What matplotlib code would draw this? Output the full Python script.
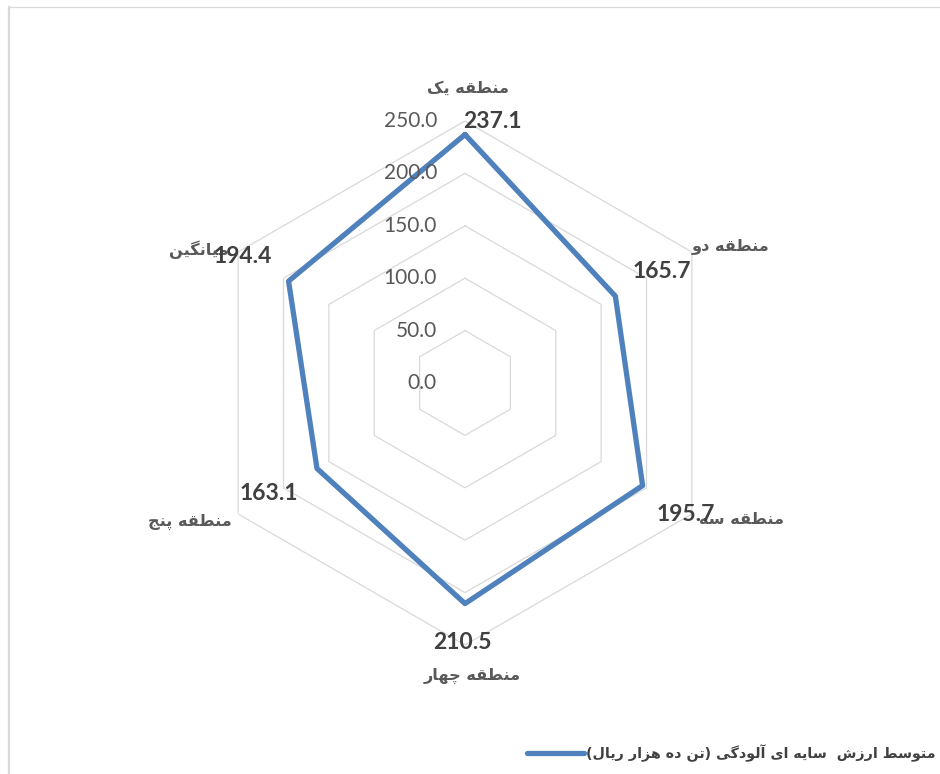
import numpy as np
import matplotlib
matplotlib.use("Agg")
import matplotlib.pyplot as plt
from matplotlib.lines import Line2D

# ---------------- data ----------------
categories = ["منطقه یک", "منطقه دو", "منطقه سه", "منطقه چهار", "منطقه پنج", "میانگین"]
values = [237.1, 165.7, 195.7, 210.5, 163.1, 194.4]
ring_values = [50, 100, 150, 200, 250]
tick_values = [0, 50, 100, 150, 200, 250]
tick_labels = ["0.0", "50.0", "100.0", "150.0", "200.0", "250.0"]
series_name = "متوسط ارزش  سایه ای آلودگی (تن ده هزار ریال)"

# ---------------- minimal Persian shaping (matplotlib has no complex text layout) ----------------
FORMS = {
    'ا': (0xFE8D, 0xFE8E, None, None), 'آ': (0xFE81, 0xFE82, None, None),
    'ب': (0xFE8F, 0xFE90, 0xFE91, 0xFE92), 'پ': (0xFB56, 0xFB57, 0xFB58, 0xFB59),
    'ت': (0xFE95, 0xFE96, 0xFE97, 0xFE98), 'ج': (0xFE9D, 0xFE9E, 0xFE9F, 0xFEA0),
    'چ': (0xFB7A, 0xFB7B, 0xFB7C, 0xFB7D), 'د': (0xFEA9, 0xFEAA, None, None),
    'ر': (0xFEAD, 0xFEAE, None, None), 'ز': (0xFEAF, 0xFEB0, None, None),
    'س': (0xFEB1, 0xFEB2, 0xFEB3, 0xFEB4), 'ش': (0xFEB5, 0xFEB6, 0xFEB7, 0xFEB8),
    'ط': (0xFEC1, 0xFEC2, 0xFEC3, 0xFEC4), 'ق': (0xFED5, 0xFED6, 0xFED7, 0xFED8),
    'ک': (0xFB8E, 0xFB8F, 0xFB90, 0xFB91), 'گ': (0xFB92, 0xFB93, 0xFB94, 0xFB95),
    'ل': (0xFEDD, 0xFEDE, 0xFEDF, 0xFEE0), 'م': (0xFEE1, 0xFEE2, 0xFEE3, 0xFEE4),
    'ن': (0xFEE5, 0xFEE6, 0xFEE7, 0xFEE8), 'ه': (0xFEE9, 0xFEEA, 0xFEEB, 0xFEEC),
    'و': (0xFEED, 0xFEEE, None, None), 'ی': (0xFBFC, 0xFBFD, 0xFBFE, 0xFBFF),
}
DUAL = set(k for k, v in FORMS.items() if v[2] is not None)
JOIN = set(FORMS)
MIRROR = {'(': ')', ')': '('}


def rtl(text):
    out = []
    for i, c in enumerate(text):
        if c not in FORMS:
            out.append(MIRROR.get(c, c))
            continue
        prev = text[i - 1] if i > 0 else None
        nxt = text[i + 1] if i + 1 < len(text) else None
        jp = prev in DUAL
        jn = c in DUAL and nxt in JOIN
        f = FORMS[c]
        if jp and jn:
            cp = f[3]
        elif jp:
            cp = f[1]
        elif jn:
            cp = f[2]
        else:
            cp = f[0]
        out.append(chr(cp))
    return ''.join(reversed(out))


# ---------------- figure ----------------
W, H = 940, 774
fig = plt.figure(figsize=(W / 100, H / 100), dpi=100)
fig.patch.set_facecolor("white")

cx, cy, R = 465, 383, 262
ax = fig.add_axes([(cx - R) / W, (H - cy - R) / H, 2 * R / W, 2 * R / H], projection="polar")
ax.set_theta_offset(np.pi / 2)
ax.set_theta_direction(-1)
ax.set_ylim(0, 250)
ax.set_xticks([])
ax.set_yticks([])
ax.grid(False)
ax.spines["polar"].set_visible(False)
ax.patch.set_alpha(0)

n = len(categories)
angles = np.arange(n) * 2 * np.pi / n
closed_angles = np.append(angles, angles[0])

# hexagonal grid rings
for rv in ring_values:
    ax.plot(closed_angles, [rv] * (n + 1), color="#D9D9D9", lw=0.9, zorder=1)

# series
ax.plot(closed_angles, values + [values[0]], color="#4F81BD", lw=3.8,
        solid_joinstyle="round", solid_capstyle="round", zorder=3)

NUM_FONT = ["Lato", "DejaVu Sans"]
AR_FONT = ["DejaVu Sans"]

# radial tick labels along the top spoke
for tv, tl in zip(tick_values, tick_labels):
    ax.annotate(tl, xy=(0, tv), xytext=(-28 * 0.72, 0), textcoords="offset points",
                ha="right", va="center", fontsize=15, family=NUM_FONT,
                color="#595959", annotation_clip=False)

# category labels (offsets in px from outer vertex)
cat_off = [(3, -33), (39, -6), (50, 6), (7, 31), (-48, 8), (-39, -2)]
for a, name, (dx, dy) in zip(angles, categories, cat_off):
    ax.annotate(rtl(name), xy=(a, 250), xytext=(dx * 0.72, -dy * 0.72),
                textcoords="offset points", ha="center", va="center",
                fontsize=11.6, fontweight="bold", family=AR_FONT,
                color="#595959", annotation_clip=False, zorder=4)

# data labels (offsets in px from data point)
val_off = [(27, -13), (46, -25), (43, 29), (-3, 39), (-48, 25), (-46, -25)]
for a, v, (dx, dy) in zip(angles, values, val_off):
    ax.annotate(f"{v:.1f}", xy=(a, v), xytext=(dx * 0.72, -dy * 0.72),
                textcoords="offset points", ha="center", va="center",
                fontsize=16.5, fontweight="bold", family=NUM_FONT,
                color="#404040", annotation_clip=False, zorder=5)

# legend
handle = Line2D([], [], color="#4F81BD", lw=3.8, solid_capstyle="round")
leg = fig.legend([handle], [rtl(series_name)], loc="center left",
                 bbox_to_anchor=(527 / W, 1 - 753 / H), frameon=False,
                 borderpad=0, borderaxespad=0, handlelength=4.0, handletextpad=0.1,
                 prop={"family": AR_FONT, "weight": "bold", "size": 10.3})
for t in leg.get_texts():
    t.set_color("#404040")

# chart area border (partially visible)
fig.add_artist(Line2D([8.5 / W, 8.5 / W], [0, 1 - 7 / H], transform=fig.transFigure,
                      color="#D9D9D9", lw=1.6))
fig.add_artist(Line2D([8.5 / W, 1.0], [1 - 7 / H, 1 - 7 / H], transform=fig.transFigure,
                      color="#D9D9D9", lw=0.9))

fig.savefig("out.png", dpi=100, facecolor="white")
